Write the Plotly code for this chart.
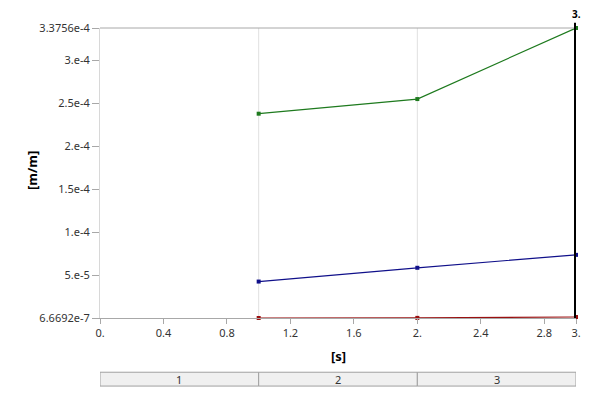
import plotly.graph_objects as go

time_s = [1.0, 2.0, 3.0]
green_vals = [2.38e-4, 2.55e-4, 3.3756e-4]
blue_vals = [4.3e-5, 5.9e-5, 7.4e-5]
red_vals = [6.6692e-7, 8.0e-7, 1.8e-6]

y_min = 6.6692e-7
y_max = 3.3756e-4
x_tickvals = [0, 0.4, 0.8, 1.2, 1.6, 2.0, 2.4, 2.8, 3.0]
x_ticktext = ["0.", "0.4", "0.8", "1.2", "1.6", "2.", "2.4", "2.8", "3."]
y_tickvals = [6.6692e-7, 5e-5, 1e-4, 1.5e-4, 2e-4, 2.5e-4, 3e-4, 3.3756e-4]
y_ticktext = ["6.6692e-7", "5.e-5", "1.e-4", "1.5e-4", "2.e-4", "2.5e-4", "3.e-4", "3.3756e-4"]
steps = ["1", "2", "3"]
step_edges = [0, 1, 2, 3]
current_time = 3.0

FONT = "Noto Sans"
fig = go.Figure()
for vals, col in [(green_vals, "#1e7a1e"), (blue_vals, "#10108a"), (red_vals, "#9a1010")]:
    fig.add_trace(go.Scatter(x=time_s, y=vals, mode="lines+markers",
                             line=dict(color=col, width=1.2),
                             marker=dict(symbol="square", size=4, color=col),
                             cliponaxis=False, showlegend=False))

shapes = []
for e in step_edges[1:-1]:
    shapes.append(dict(type="line", xref="x", yref="paper", x0=e, x1=e, y0=0, y1=1,
                       line=dict(color="#e0e0e0", width=1), layer="below"))
shapes.append(dict(type="line", xref="paper", yref="paper", x0=0, x1=1, y0=1, y1=1,
                   line=dict(color="#a8a8a8", width=1)))
shapes.append(dict(type="line", xref="x", yref="paper", x0=current_time, x1=current_time,
                   y0=0, y1=1.018, line=dict(color="black", width=4)))
annotations = []
for i, s in enumerate(steps):
    shapes.append(dict(type="rect", xref="x", yref="paper", x0=step_edges[i], x1=step_edges[i + 1],
                       y0=-0.2347, y1=-0.187, fillcolor="#f0f0f0",
                       line=dict(color="#a0a0a0", width=1)))
    annotations.append(dict(x=(step_edges[i] + step_edges[i + 1]) / 2, y=-0.211, xref="x", yref="paper",
                            text=s, showarrow=False, xanchor="center", yanchor="middle",
                            font=dict(family=FONT, size=11, color="#333")))

annotations.append(dict(x=current_time, y=1.048, xref="x", yref="paper", text="<b>3.</b>",
                        showarrow=False, xanchor="center", yanchor="middle",
                        font=dict(family=FONT, size=10, color="black")))
annotations.append(dict(x=0.5, y=-0.1327, xref="paper", yref="paper", text="<b>[s]</b>",
                        showarrow=False, xanchor="center", yanchor="middle",
                        font=dict(family=FONT, size=13, color="black")))
annotations.append(dict(x=-0.143, y=0.51, xref="paper", yref="paper", text="<b>[m/m]</b>",
                        showarrow=False, textangle=-90, xanchor="center", yanchor="middle",
                        font=dict(family=FONT, size=13, color="black")))

fig.update_layout(
    width=592, height=392,
    margin=dict(l=92, r=24, t=16, b=82),
    plot_bgcolor="white", paper_bgcolor="white",
    font=dict(family=FONT, size=11, color="#333"),
    shapes=shapes, annotations=annotations,
    xaxis=dict(range=[0, 3], tickvals=x_tickvals, ticktext=x_ticktext, showgrid=False,
               zeroline=False, showline=True, linecolor="#a8a8a8", ticks="outside",
               ticklen=5, tickcolor="#a8a8a8", tickfont=dict(size=11)),
    yaxis=dict(range=[y_min, y_max], tickvals=y_tickvals, ticktext=y_ticktext, showgrid=False,
               zeroline=False, showline=True, linecolor="#d8d8d8", ticks="outside",
               ticklen=7, tickcolor="#a8a8a8", tickfont=dict(size=11)),
)
fig.write_html("out.html")
